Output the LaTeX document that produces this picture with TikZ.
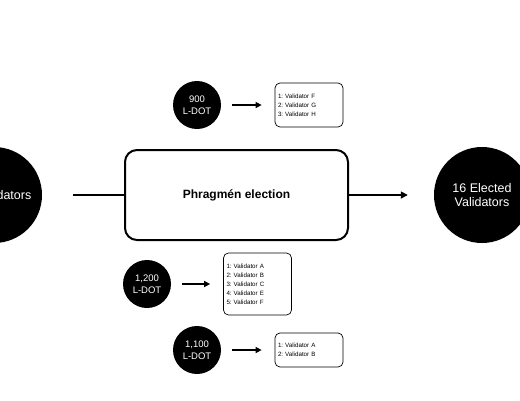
\documentclass[tikz,border=0pt]{standalone}
\usepackage{fontspec}
\setmainfont{Liberation Sans}
\usetikzlibrary{arrows.meta}
\frenchspacing
\begin{document}
\begin{tikzpicture}[x=1pt,y=-1pt,
    bigdot/.style={circle,fill=black,minimum size=96pt,inner sep=0pt,text=white,align=center,font=\fontsize{12.5}{14.5}\selectfont},
    stake/.style={circle,fill=black,minimum size=48pt,inner sep=0pt,text=white,align=center,font=\fontsize{9.5}{12}\selectfont},
    votes/.style={draw,rounded corners=5pt,line width=0.7pt,inner xsep=3pt,inner ysep=0pt,text width=62pt,align=left,font=\fontsize{6.2}{9}\selectfont},
    flow/.style={line width=1.6pt,-{Triangle[length=7pt,width=7pt]}},
    vote/.style={line width=1.4pt,-{Triangle[length=6pt,width=6pt]},shorten <=11pt,shorten >=13pt}]
  \useasboundingbox (0,0) rectangle (520,400);
  \clip (0,0) rectangle (520,400);
  %% Election
  \node[bigdot] (pool) at (-6,195) {};
  \node[text=white,font=\fontsize{12.5}{14.5}\selectfont] (poollabel) at (4,195) {Validators};
  \node[draw,line width=2pt,rounded corners=12pt,minimum width=223pt,minimum height=90pt,font=\bfseries\fontsize{12}{14}\selectfont] (phrag) at (236.5,195) {Phragmén election};
  \node[bigdot] (elected) at (482,195) {16 Elected\\Validators};
  \draw[line width=1.5pt,shorten <=31pt] (pool.east) -- (phrag.west);
  \draw[flow,shorten >=26pt] (phrag.east) -- (elected.west);
  %% Nominators
  \node[stake] (nomA) at (197,105) {900\\L-DOT};
  \node[votes,minimum height=44pt] (listA) at (309,105) {1: Validator F\\2: Validator G\\3: Validator H};
  \draw[vote] (nomA.east) -- (listA.west);
  \node[stake] (nomB) at (147,284) {1,200\\L-DOT};
  \node[votes,minimum height=62pt] (listB) at (257.5,284) {1: Validator A\\2: Validator B\\3: Validator C\\4: Validator E\\5: Validator F};
  \draw[vote] (nomB.east) -- (listB.west);
  \node[stake] (nomC) at (197,350) {1,100\\L-DOT};
  \node[votes,minimum height=34pt] (listC) at (309,350) {1: Validator A\\2: Validator B};
  \draw[vote] (nomC.east) -- (listC.west);
\end{tikzpicture}
\end{document}
